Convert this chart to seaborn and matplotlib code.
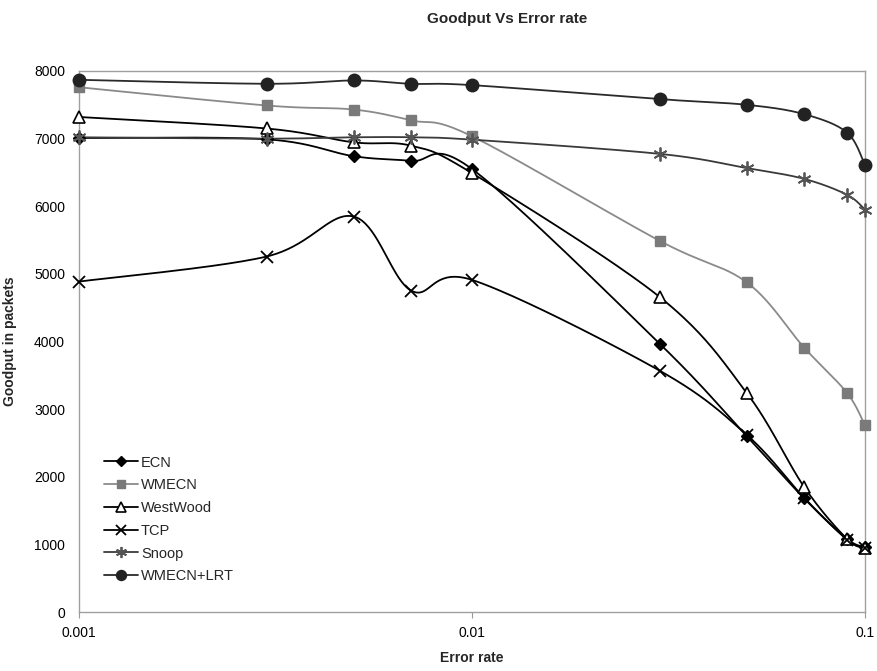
import numpy as np
import pandas as pd
import matplotlib
matplotlib.use('Agg')
import matplotlib.pyplot as plt
import seaborn as sns
from matplotlib.lines import Line2D

error_rate = [0.001, 0.003, 0.005, 0.007, 0.01, 0.03, 0.05, 0.07, 0.09, 0.1]
ecn = [7010, 6990, 6740, 6670, 6550, 3970, 2600, 1680, 1080, 960]
wmecn = [7760, 7490, 7430, 7270, 7035, 5490, 4875, 3910, 3240, 2760]
westwood = [7320, 7150, 6945, 6895, 6490, 4660, 3240, 1850, 1080, 950]
tcp = [4886, 5256, 5848, 4753, 4911, 3570, 2620, 1690, 1070, 945]
snoop = [7020, 7000, 7020, 7020, 6985, 6775, 6565, 6405, 6170, 5950]
wmecn_lrt = [7870, 7811, 7860, 7811, 7791, 7584, 7500, 7362, 7090, 6607]

series_names = ["ECN", "WMECN", "WestWood", "TCP", "Snoop", "WMECN+LRT"]
series_vals = [ecn, wmecn, westwood, tcp, snoop, wmecn_lrt]

styles = {
    "ECN": dict(color="black", marker="D", ms=6, mfc="black", mec="black", mew=1.0),
    "WMECN": dict(color="#8a8a8a", marker="s", ms=7.5, mfc="#7a7a7a", mec="#7a7a7a", mew=1.0),
    "WestWood": dict(color="black", marker="^", ms=8.5, mfc="white", mec="black", mew=1.2),
    "TCP": dict(color="black", marker="x", ms=9, mfc="black", mec="black", mew=1.3),
    "Snoop": dict(color="#3a3a3a", marker=(6, 2, 0), ms=10, mfc="#555555", mec="#555555", mew=1.3),
    "WMECN+LRT": dict(color="#2a2a2a", marker="o", ms=9, mfc="#222222", mec="#222222", mew=1.0),
}

PX_DEC = 393.0
PX_Y = 0.0676


def smooth(xs, ys, n=40):
    u = np.log10(np.asarray(xs, float)) * PX_DEC
    v = np.asarray(ys, float) * PX_Y
    pts = np.column_stack([u, v])
    out = []
    m = len(pts)
    for i in range(m - 1):
        p0 = pts[i - 1] if i > 0 else pts[i]
        p1 = pts[i]
        p2 = pts[i + 1]
        p3 = pts[i + 2] if i + 2 < m else pts[i + 1]
        c1 = p1 + (p2 - p0) / 6.0
        c2 = p2 - (p3 - p1) / 6.0
        t = np.linspace(0, 1, n, endpoint=(i == m - 2))[:, None]
        b = (1 - t) ** 3 * p1 + 3 * (1 - t) ** 2 * t * c1 + 3 * (1 - t) * t ** 2 * c2 + t ** 3 * p2
        out.append(b)
    out = np.vstack(out)
    return 10 ** (out[:, 0] / PX_DEC), out[:, 1] / PX_Y


sns.set_style("white")
plt.rcParams['font.family'] = ['Liberation Sans', 'DejaVu Sans']

fig = plt.figure(figsize=(8.77, 6.71), dpi=100)
ax = fig.add_axes([79 / 877, 59 / 671, 786 / 877, 541 / 671])

for name, vals in zip(series_names, series_vals):
    st = styles[name]
    sx, sy = smooth(error_rate, vals)
    df = pd.DataFrame({"x": sx, "y": sy})
    sns.lineplot(data=df, x="x", y="y", color=st["color"], lw=1.3, sort=False,
                 estimator=None, ax=ax, legend=False)
    ax.lines[-1].set_clip_on(False)
    ax.plot(error_rate, vals, linestyle="none", marker=st["marker"], ms=st["ms"],
            mfc=st["mfc"], mec=st["mec"], mew=st["mew"], zorder=3, clip_on=False)

ax.set_xscale("log")
ax.set_xlim(0.001, 0.1)
ax.set_ylim(0, 8000)
ax.set_xticks([0.001, 0.01, 0.1])
ax.set_xticklabels(["0.001", "0.01", "0.1"])
ax.xaxis.set_minor_locator(matplotlib.ticker.NullLocator())
ax.set_yticks(range(0, 8001, 1000))
ax.set_yticklabels([str(v) for v in range(0, 8001, 1000)])
ax.tick_params(axis="both", labelsize=10, length=4, color="#999999", direction="out",
               colors="black")
ax.tick_params(axis="both", which="both", color="#999999")
ax.xaxis.set_tick_params(pad=6)
ax.yaxis.set_tick_params(pad=6, left=False)
ax.xaxis.set_tick_params(bottom=True)
for s in ax.spines.values():
    s.set_color("#a0a0a0")
    s.set_linewidth(1.0)

ax.set_xlabel("Error rate", fontsize=10, fontweight="bold", labelpad=8)
ax.set_ylabel("Goodput in packets", fontsize=10, fontweight="bold", labelpad=12)

fig.text(507 / 877, 1 - 19 / 671, "Goodput Vs Error rate", ha="center", va="center",
         fontsize=11, fontweight="bold",
         family=['Liberation Sans Narrow', 'Liberation Sans', 'DejaVu Sans'])

handles = []
for name in series_names:
    st = styles[name]
    handles.append(Line2D([], [], color=st["color"], lw=1.3, marker=st["marker"],
                          ms=st["ms"] * 0.8, mfc=st["mfc"], mec=st["mec"], mew=st["mew"]))
ax.legend(handles, series_names, loc="upper left", bbox_to_anchor=(0.025, 0.30),
          frameon=False, fontsize=10.5, handlelength=2.3, handletextpad=0.2,
          labelspacing=0.6, borderaxespad=0)

fig.savefig("out.png", dpi=100)
